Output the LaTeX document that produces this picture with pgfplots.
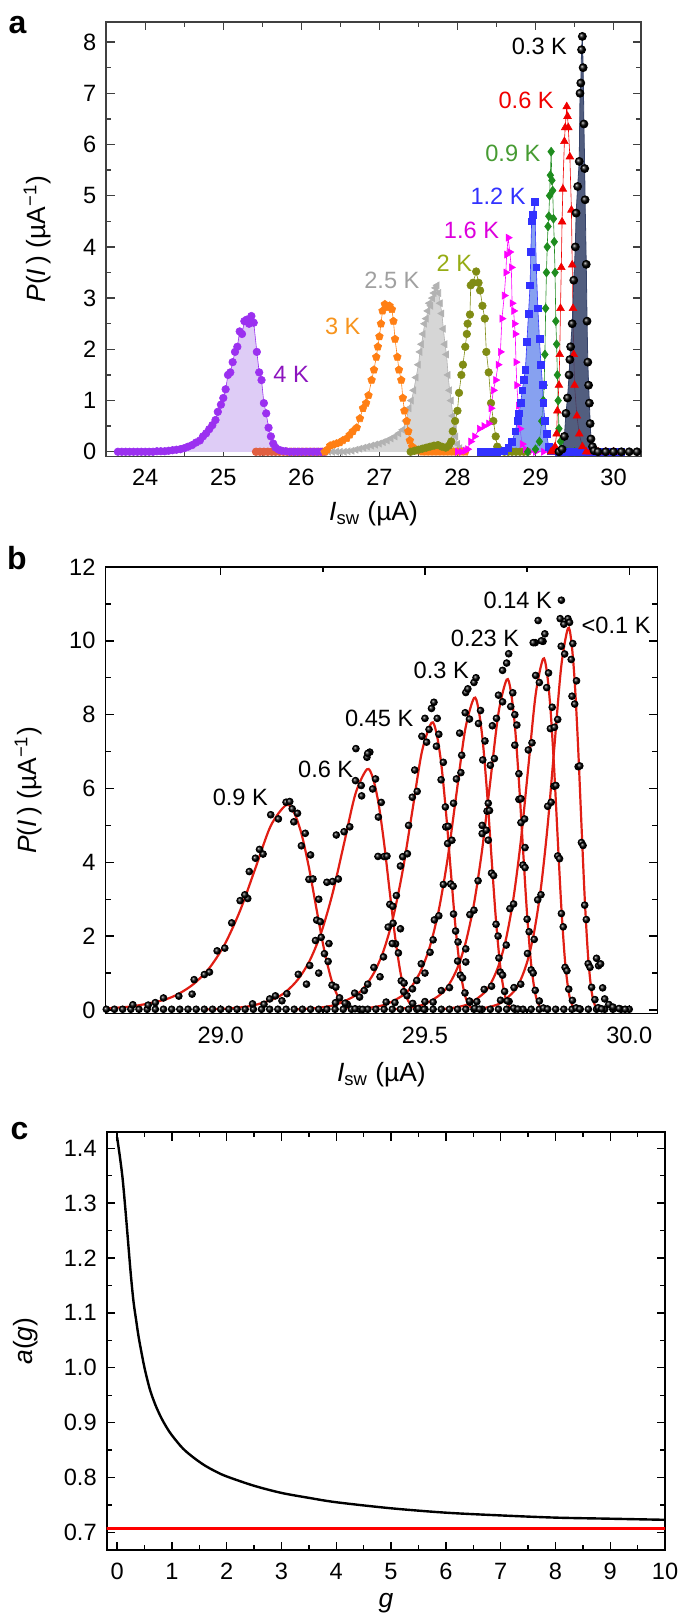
\documentclass[border=0pt]{standalone}
\usepackage{fontspec}
\setmainfont{Liberation Sans}
\usepackage{pgfplots}
\pgfplotsset{compat=1.18}
\usetikzlibrary{plotmarks}
\newcommand\fs{\fontsize{11.8}{14}\selectfont}
\newcommand\fl{\fontsize{13.2}{15}\selectfont}
\definecolor{cfour}{RGB}{155,48,240}
\definecolor{cfourfill}{RGB}{222,204,246}
\definecolor{cfourlab}{RGB}{140,20,190}
\definecolor{cthree}{RGB}{255,127,20}
\definecolor{cthreelab}{RGB}{247,148,29}
\definecolor{cbrown}{RGB}{225,95,65}
\definecolor{ctwofive}{RGB}{178,178,178}
\definecolor{ctwofivefill}{RGB}{214,214,214}
\definecolor{ctwofivelab}{RGB}{160,160,160}
\definecolor{ctwo}{RGB}{128,140,20}
\definecolor{ctwolab}{RGB}{150,172,20}
\definecolor{conesix}{RGB}{255,0,255}
\definecolor{conesixlab}{RGB}{220,0,220}
\definecolor{conetwo}{RGB}{50,50,255}
\definecolor{conetwofill}{RGB}{95,130,235}
\definecolor{cninek}{RGB}{30,140,30}
\definecolor{cninelab}{RGB}{70,155,50}
\definecolor{csix}{RGB}{240,0,0}
\definecolor{cthreefill}{RGB}{52,66,105}
\definecolor{fitred}{RGB}{225,30,20}
\begin{document}
\begin{tikzpicture}
\useasboundingbox (0pt,0pt) rectangle (342.5pt,808pt);
\pgfplotsset{every axis/.append style={scale only axis, font=\fs,
  tick label style={font=\fs}, label style={font=\fl}, /pgf/number format/assume math mode=true,
  major tick length=4.2pt, minor tick length=2.5pt,
  every tick/.style={line width=0.7pt, black},
  axis line style={line width=0.8pt},
  xticklabel style={yshift=-3pt}, yticklabel style={xshift=-1.5pt}}}
%%%%%%%%%%%%%%%% panel a
\begin{axis}[at={(53.1pt,579.8pt)}, anchor=south west, width=267.35pt, height=217.15pt,
  xmin=23.5, xmax=30.35, ymin=-0.09, ymax=8.39,
  axis line style={black!75},
  every tick/.style={line width=0.7pt, black!75},
  xtick={24,25,26,27,28,29,30}, minor x tick num=1,
  ytick={0,1,2,3,4,5,6,7,8}, minor y tick num=1,
  xlabel={\textit{I}\textsubscript{sw} (µA)},
  ylabel={\textit{P}(\textit{I}\,) (µA\textsuperscript{−1})},
  x label style={at={(axis description cs:0.5,-0.1326)}, anchor=center},
  y label style={at={(axis description cs:-0.129,0.5)}, anchor=center}]
% 4 K
\addplot[draw=none, fill=cfourfill] coordinates {(23.65,0)(23.7,0)(23.75,0)(23.8,0)(23.85,0)(23.9,0)(23.95,0)(24.0,0)(24.05,0)(24.1,0)(24.15,0.01)(24.2,0.01)(24.25,0.01)(24.3,0.02)(24.35,0.03)(24.4,0.04)(24.45,0.05)(24.5,0.07)(24.55,0.1)(24.6,0.13)(24.65,0.18)(24.7,0.22)(24.74,0.3)(24.78,0.36)(24.82,0.44)(24.86,0.52)(24.9,0.62)(24.93,0.78)(24.97,0.92)(25.0,1.05)(25.03,1.22)(25.06,1.5)(25.09,1.55)(25.12,1.75)(25.15,1.95)(25.18,2.05)(25.21,2.35)(25.24,2.3)(25.27,2.55)(25.3,2.58)(25.33,2.5)(25.36,2.65)(25.39,2.52)(25.43,1.95)(25.46,1.55)(25.49,1.4)(25.52,0.95)(25.55,0.75)(25.58,0.47)(25.61,0.3)(25.64,0.16)(25.67,0.08)(25.71,0.04)(25.75,0.02)(25.8,0.01)(25.85,0)} \closedcycle;
\addplot[color=cbrown, only marks, mark=*, mark size=1.9pt] coordinates {(25.42,0)(25.47,0)(25.52,0)(25.57,0)(25.62,0)(25.67,0)(25.72,0)(25.77,0)(25.82,0)(25.87,0)(25.92,0)(25.97,0)(26.02,0)(26.07,0)(26.12,0)(26.17,0)(26.22,0)(26.27,0)};
\addplot[color=cfour, line width=0.3pt, mark=*, mark size=1.9pt] coordinates {(23.65,0)(23.7,0)(23.75,0)(23.8,0)(23.85,0)(23.9,0)(23.95,0)(24.0,0)(24.05,0)(24.1,0)(24.15,0.01)(24.2,0.01)(24.25,0.01)(24.3,0.02)(24.35,0.03)(24.4,0.04)(24.45,0.05)(24.5,0.07)(24.55,0.1)(24.6,0.13)(24.65,0.18)(24.7,0.22)(24.74,0.3)(24.78,0.36)(24.82,0.44)(24.86,0.52)(24.9,0.62)(24.93,0.78)(24.97,0.92)(25.0,1.05)(25.03,1.22)(25.06,1.5)(25.09,1.55)(25.12,1.75)(25.15,1.95)(25.18,2.05)(25.21,2.35)(25.24,2.3)(25.27,2.55)(25.3,2.58)(25.33,2.5)(25.36,2.65)(25.39,2.52)(25.43,1.95)(25.46,1.55)(25.49,1.4)(25.52,0.95)(25.55,0.75)(25.58,0.47)(25.61,0.3)(25.64,0.16)(25.67,0.08)(25.71,0.04)(25.75,0.02)(25.8,0.01)(25.85,0)(25.9,0)(25.95,0)(26.0,0)(26.05,0)(26.1,0)(26.15,0)(26.2,0)(26.25,0)(26.3,0)};
% 2.5 K
\addplot[draw=none, fill=ctwofivefill] coordinates {(26.3,0)(26.35,0)(26.4,0)(26.45,0)(26.5,0)(26.55,0)(26.6,0.01)(26.65,0.02)(26.7,0.04)(26.75,0.06)(26.8,0.08)(26.85,0.1)(26.9,0.12)(26.95,0.14)(27.0,0.16)(27.05,0.19)(27.1,0.22)(27.15,0.26)(27.2,0.3)(27.25,0.36)(27.3,0.43)(27.34,0.6)(27.38,0.85)(27.41,1.0)(27.44,1.2)(27.47,1.45)(27.5,1.7)(27.52,1.95)(27.54,2.1)(27.56,2.3)(27.58,2.5)(27.6,2.6)(27.62,2.75)(27.64,2.9)(27.66,2.85)(27.68,3.0)(27.7,3.1)(27.72,3.2)(27.74,3.25)(27.76,3.1)(27.78,2.9)(27.8,2.7)(27.82,2.4)(27.84,2.1)(27.86,1.9)(27.88,1.5)(27.9,1.2)(27.92,1.0)(27.94,0.7)(27.96,0.45)(27.98,0.3)(28.0,0.15)(28.03,0.07)(28.06,0.03)(28.1,0)} \closedcycle;
\addplot[color=ctwofive, line width=0.3pt, mark=triangle*, mark size=2pt, mark options={rotate=90}] coordinates {(26.3,0)(26.35,0)(26.4,0)(26.45,0)(26.5,0)(26.55,0)(26.6,0.01)(26.65,0.02)(26.7,0.04)(26.75,0.06)(26.8,0.08)(26.85,0.1)(26.9,0.12)(26.95,0.14)(27.0,0.16)(27.05,0.19)(27.1,0.22)(27.15,0.26)(27.2,0.3)(27.25,0.36)(27.3,0.43)(27.34,0.6)(27.38,0.85)(27.41,1.0)(27.44,1.2)(27.47,1.45)(27.5,1.7)(27.52,1.95)(27.54,2.1)(27.56,2.3)(27.58,2.5)(27.6,2.6)(27.62,2.75)(27.64,2.9)(27.66,2.85)(27.68,3.0)(27.7,3.1)(27.72,3.2)(27.74,3.25)(27.76,3.1)(27.78,2.9)(27.8,2.7)(27.82,2.4)(27.84,2.1)(27.86,1.9)(27.88,1.5)(27.9,1.2)(27.92,1.0)(27.94,0.7)(27.96,0.45)(27.98,0.3)(28.0,0.15)(28.03,0.07)(28.06,0.03)(28.1,0)};
% 3 K
\addplot[color=cthree, line width=0.3pt, mark=pentagon*, mark size=2pt] coordinates {(26.3,0)(26.33,0.04)(26.37,0.12)(26.41,0.14)(26.45,0.16)(26.49,0.18)(26.53,0.22)(26.58,0.26)(26.62,0.33)(26.66,0.4)(26.71,0.47)(26.75,0.65)(26.79,0.85)(26.83,0.95)(26.86,1.1)(26.9,1.4)(26.93,1.6)(26.96,1.85)(26.98,2.05)(27.0,2.25)(27.02,2.5)(27.04,2.75)(27.07,2.88)(27.1,2.82)(27.13,2.85)(27.16,2.78)(27.18,2.55)(27.2,2.2)(27.23,1.85)(27.25,1.6)(27.28,1.4)(27.3,1.05)(27.32,0.8)(27.35,0.6)(27.37,0.4)(27.39,0.22)(27.42,0.1)(27.46,0.05)(27.5,0.02)(27.55,0)(27.6,0)(27.65,0)(27.7,0)(27.75,0)(27.8,0)(27.85,0)(27.9,0)(27.95,0)(28.0,0)(28.05,0)(28.1,0)};
% 2 K
\addplot[color=ctwo, line width=0.3pt, mark=*, mark size=1.9pt] coordinates {(27.4,0)(27.45,0.02)(27.5,0.04)(27.55,0.06)(27.6,0.08)(27.65,0.1)(27.7,0.12)(27.75,0.13)(27.8,0.1)(27.85,0.08)(27.89,0.12)(27.92,0.2)(27.94,0.4)(27.97,0.6)(28.0,0.8)(28.02,1.15)(28.05,1.5)(28.07,1.7)(28.1,2.05)(28.12,2.3)(28.13,2.5)(28.16,2.68)(28.17,3.25)(28.2,3.3)(28.24,3.52)(28.27,3.3)(28.29,3.15)(28.32,2.85)(28.35,2.6)(28.37,1.95)(28.4,1.55)(28.43,0.95)(28.46,0.6)(28.49,0.3)(28.51,0.1)(28.55,0.03)(28.6,0)(28.65,0)(28.7,0)(28.75,0)(28.8,0)(28.85,0)(28.9,0)};
% 1.6 K
\addplot[color=conesix, line width=0.3pt, mark=triangle*, mark size=2pt, mark options={rotate=-90}] coordinates {(28.0,0)(28.05,0)(28.1,0.02)(28.13,0.05)(28.17,0.2)(28.22,0.3)(28.28,0.45)(28.34,0.5)(28.4,0.55)(28.43,0.85)(28.46,1.2)(28.49,1.4)(28.52,1.7)(28.55,1.95)(28.57,2.6)(28.6,3.05)(28.62,3.5)(28.63,3.85)(28.65,4.18)(28.67,3.9)(28.69,3.6)(28.7,2.9)(28.72,2.75)(28.73,2.5)(28.74,2.3)(28.75,1.75)(28.76,1.3)(28.78,0.9)(28.8,0.45)(28.83,0.15)(28.87,0.05)(28.92,0)(29.0,0)(29.1,0)};
% 0.9 K
\addplot[color=cninek, line width=0.3pt, mark=diamond*, mark size=2.2pt] coordinates {(28.9,0)(29.0,0.05)(29.05,0.2)(29.08,0.6)(29.1,1.0)(29.11,1.3)(29.12,1.9)(29.13,2.8)(29.14,3.5)(29.15,4.0)(29.16,4.4)(29.17,4.6)(29.18,5.0)(29.19,5.4)(29.2,5.86)(29.21,5.3)(29.22,5.1)(29.23,4.55)(29.24,4.1)(29.25,3.5)(29.26,2.55)(29.27,2.1)(29.28,1.5)(29.29,1.0)(29.3,0.45)(29.32,0.2)(29.35,0.05)(29.4,0)(29.5,0)(29.6,0)};
% 1.2 K
\addplot[draw=none, fill=conetwofill, fill opacity=0.75] coordinates {(28.5,0)(28.6,0.02)(28.65,0.08)(28.7,0.2)(28.74,0.4)(28.77,0.6)(28.79,0.75)(28.81,0.95)(28.83,1.2)(28.85,1.4)(28.87,1.6)(28.89,2.15)(28.91,2.7)(28.93,3.25)(28.94,3.9)(28.95,4.5)(28.97,4.62)(28.99,4.88)(29.01,3.6)(29.03,2.8)(29.05,2.2)(29.07,1.7)(29.09,1.3)(29.1,0.95)(29.12,0.6)(29.14,0.35)(29.17,0.1)(29.2,0.02)(29.3,0)} \closedcycle;
\addplot[color=conetwo, line width=0.3pt, mark=square*, mark size=1.7pt] coordinates {(28.3,0)(28.4,0)(28.5,0)(28.6,0.02)(28.65,0.08)(28.7,0.2)(28.74,0.4)(28.77,0.6)(28.79,0.75)(28.81,0.95)(28.83,1.2)(28.85,1.4)(28.87,1.6)(28.89,2.15)(28.91,2.7)(28.93,3.25)(28.94,3.9)(28.95,4.5)(28.97,4.62)(28.99,4.88)(29.01,3.6)(29.03,2.8)(29.05,2.2)(29.07,1.7)(29.09,1.3)(29.1,0.95)(29.12,0.6)(29.14,0.35)(29.17,0.1)(29.2,0.02)(29.3,0)(29.4,0)(29.5,0)(29.6,0)(29.7,0)(29.8,0)(29.9,0)(30.0,0)(30.1,0)};
% 0.6 K
\addplot[color=csix, line width=0.3pt, mark=triangle*, mark size=2.2pt] coordinates {(29.2,0)(29.22,0.02)(29.25,0.1)(29.27,0.35)(29.28,0.8)(29.3,1.3)(29.31,1.9)(29.32,2.8)(29.33,3.6)(29.34,4.49)(29.35,5.13)(29.37,6.06)(29.38,6.33)(29.4,6.74)(29.41,6.55)(29.42,6.33)(29.44,5.76)(29.46,4.72)(29.47,3.65)(29.48,2.8)(29.49,1.9)(29.5,1.3)(29.53,0.7)(29.56,0.35)(29.6,0.1)(29.65,0)(29.7,0)(29.8,0)(29.9,0)(30.0,0)};
% 0.3 K
\addplot[draw=cthreefill, fill=cthreefill, fill opacity=0.85] coordinates {(29.3,0)(29.34,0.05)(29.37,0.3)(29.39,0.75)(29.41,1.05)(29.43,1.5)(29.44,1.8)(29.45,2.05)(29.47,2.5)(29.49,3.35)(29.51,4.0)(29.52,4.66)(29.54,5.18)(29.56,5.67)(29.57,7.0)(29.58,7.2)(29.59,7.85)(29.6,8.11)(29.61,7.5)(29.62,6.4)(29.63,5.53)(29.635,4.92)(29.65,3.66)(29.66,2.55)(29.67,1.75)(29.68,1.3)(29.69,0.95)(29.7,0.55)(29.71,0.25)(29.73,0.1)(29.75,0.02)(29.8,0)} \closedcycle;
\addplot[only marks, mark=ball, mark size=2pt, mark options={ball color=black}] coordinates {(29.3,0)(29.34,0.05)(29.37,0.3)(29.39,0.75)(29.41,1.05)(29.43,1.5)(29.44,1.8)(29.45,2.05)(29.47,2.5)(29.49,3.35)(29.51,4.0)(29.52,4.66)(29.54,5.18)(29.56,5.67)(29.57,7.0)(29.58,7.2)(29.59,7.85)(29.6,8.11)(29.61,7.5)(29.62,6.4)(29.63,5.53)(29.635,4.92)(29.65,3.66)(29.66,2.55)(29.67,1.75)(29.68,1.3)(29.69,0.95)(29.7,0.55)(29.71,0.25)(29.73,0.1)(29.75,0.02)(29.8,0)(29.9,0)(30.0,0)(30.1,0)(30.2,0)(30.3,0)};
\node[text=black] at (axis cs:29.05,7.92) {0.3 K};
\node[text=csix] at (axis cs:28.88,6.87) {0.6 K};
\node[text=cninelab] at (axis cs:28.71,5.82) {0.9 K};
\node[text=conetwo] at (axis cs:28.52,4.99) {1.2 K};
\node[text=conesixlab] at (axis cs:28.18,4.32) {1.6 K};
\node[text=ctwolab] at (axis cs:27.96,3.68) {2 K};
\node[text=ctwofivelab] at (axis cs:27.16,3.35) {2.5 K};
\node[text=cthreelab] at (axis cs:26.53,2.44) {3 K};
\node[text=cfourlab] at (axis cs:25.87,1.51) {4 K};
\end{axis}
%%%%%%%%%%%%%%%% panel b
\begin{axis}[at={(52.75pt,301.15pt)}, anchor=south west, width=275.95pt, height=223.35pt,
  xmin=28.718, xmax=30.069, ymin=-0.1, ymax=12,
  xtick={29,29.5,30}, minor x tick num=1,
  ytick={0,2,4,6,8,10,12}, minor y tick num=1,
  xticklabel style={/pgf/number format/fixed, /pgf/number format/fixed zerofill, /pgf/number format/precision=1},
  xlabel={\textit{I}\textsubscript{sw} (µA)},
  ylabel={\textit{P}(\textit{I}\,) (µA\textsuperscript{−1})},
  x label style={at={(axis description cs:0.5,-0.137)}, anchor=center},
  y label style={at={(axis description cs:-0.14,0.5)}, anchor=center}]
\addplot[only marks, mark=ball, mark size=1.7pt, mark options={ball color=black}] coordinates {
(28.72,0.02)(28.74,0.02)(28.76,0.02)(28.78,0.02)(28.80,0.02)(28.82,0.02)(28.84,0.02)(28.86,0.02)(28.88,0.02)(28.90,0.02)(28.92,0.02)(28.94,0.02)(28.96,0.02)(28.98,0.02)(29.00,0.02)(29.02,0.02)(29.04,0.02)(29.06,0.02)(29.08,0.02)(29.10,0.02)(29.12,0.02)(29.14,0.02)(29.16,0.02)(29.18,0.02)(29.20,0.02)(29.22,0.02)(29.24,0.02)(29.26,0.02)(29.28,0.02)(29.30,0.02)(29.32,0.02)(29.34,0.02)(29.36,0.02)(29.38,0.02)(29.40,0.02)(29.42,0.02)(29.44,0.02)(29.46,0.02)(29.48,0.02)(29.50,0.02)(29.52,0.02)(29.54,0.02)(29.56,0.02)(29.58,0.02)(29.60,0.02)(29.62,0.02)(29.64,0.02)(29.66,0.02)(29.68,0.02)(29.70,0.02)(29.72,0.02)(29.74,0.02)(29.76,0.02)(29.78,0.02)(29.80,0.02)(29.82,0.02)(29.84,0.02)(29.86,0.02)(29.88,0.02)(29.90,0.02)(29.92,0.02)(29.94,0.02)(29.96,0.02)(29.98,0.02)(30.00,0.02)
(28.785,0.142)(28.8225,0.133)(28.86,0.326)(28.8975,0.376)(28.935,0.822)(28.9725,1.027)(28.99125,1.602)(29.01,1.676)(29.0475,2.962)(29.06625,3.020)(29.085,4.111)(29.10375,4.224)(29.1225,5.289)(29.14125,5.176)(29.16,5.628)(29.169,5.646)(29.179,5.097)(29.188,5.328)(29.1975,4.448)(29.207,4.786)(29.216,3.538)(29.226,3.549)(29.235,2.435)(29.244,2.392)(29.254,1.525)(29.263,1.315)(29.2725,0.673)(29.282,0.620)(29.291,0.330)(29.31,0.152)(29.329,0.033)(29.3475,0.017)
(28.84,0.2)(28.93,0.43)(28.96,0.96)(29.027,2.36)(29.059,3.12)(29.07,3.75)(29.095,4.35)(29.175,5.45)(29.22,4.2)(29.24,3.0)(29.265,1.8)
(29.078,0.166)(29.106,0.156)(29.134,0.383)(29.162,0.441)(29.19,0.966)(29.218,1.206)(29.232,1.882)(29.246,1.969)(29.274,3.480)(29.288,3.548)(29.302,4.829)(29.316,4.962)(29.33,6.213)(29.344,6.081)(29.358,6.846)(29.365,6.986)(29.372,5.987)(29.379,6.259)(29.386,5.226)(29.393,5.623)(29.40,4.156)(29.407,4.169)(29.414,2.861)(29.421,2.810)(29.428,1.792)(29.435,1.545)(29.442,0.791)(29.449,0.729)(29.456,0.387)(29.47,0.178)(29.484,0.039)(29.498,0.020)
(29.331,7.08)(29.36,6.95)(29.283,4.74)(29.26,3.46)(29.385,4.16)(29.345,5.8)(29.24,1.0)(29.21,0.7)(29.15,0.25)(29.12,0.3)
(29.281,0.198)(29.3045,0.186)(29.328,0.457)(29.3515,0.527)(29.375,1.152)(29.3985,1.439)(29.410,2.246)(29.422,2.350)(29.4455,4.152)(29.457,4.233)(29.469,5.763)(29.481,5.921)(29.4925,7.414)(29.504,7.256)(29.516,8.169)(29.522,8.336)(29.528,7.144)(29.534,7.469)(29.5395,6.236)(29.545,6.709)(29.551,4.959)(29.557,4.975)(29.563,3.414)(29.569,3.353)(29.575,2.138)(29.581,1.843)(29.5865,0.944)(29.592,0.870)(29.598,0.462)(29.61,0.212)(29.622,0.047)(29.6335,0.023)
(29.43,3.1)(29.44,3.9)(29.46,5.0)(29.475,6.5)(29.5,7.9)(29.51,7.6)(29.53,7.9)(29.55,5.5)(29.57,2.6)(29.39,0.9)(29.36,0.7)(29.34,0.35)(29.42,1.8)(29.44,2.2)
(29.405,0.215)(29.4265,0.202)(29.448,0.496)(29.4695,0.572)(29.491,1.251)(29.5125,1.563)(29.523,2.440)(29.534,2.552)(29.5555,4.510)(29.566,4.598)(29.577,6.259)(29.588,6.430)(29.5985,8.052)(29.609,7.881)(29.62,8.873)(29.625,9.0)(29.631,7.760)(29.636,8.112)(29.6415,6.773)(29.647,7.287)(29.652,5.386)(29.658,5.403)(29.663,3.708)(29.668,3.642)(29.674,2.322)(29.679,2.002)(29.6845,1.025)(29.69,0.945)(29.695,0.502)(29.706,0.231)(29.717,0.051)(29.7275,0.025)
(29.6,8.6)(29.605,8.7)(29.585,7.5)(29.59,6.9)(29.57,5.6)(29.545,3.4)(29.5,1.0)(29.48,0.8)(29.655,4.6)(29.64,5.0)(29.52,1.9)
(29.50,0.228)(29.52,0.214)(29.54,0.525)(29.56,0.606)(29.58,1.325)(29.60,1.656)(29.61,2.584)(29.62,2.703)(29.64,4.777)(29.65,4.870)(29.66,6.629)(29.67,6.811)(29.68,8.528)(29.69,8.348)(29.70,9.398)(29.705,9.65)(29.71,8.219)(29.715,8.592)(29.72,7.173)(29.725,7.718)(29.73,5.705)(29.735,5.723)(29.74,3.927)(29.745,3.857)(29.75,2.459)(29.755,2.120)(29.76,1.086)(29.765,1.001)(29.77,0.532)(29.78,0.244)(29.79,0.054)(29.80,0.027)
(29.69,9.2)(29.675,7.9)(29.665,7.7)(29.655,5.6)(29.63,3.5)(29.6,1.3)(29.73,6.4)(29.745,4.4)(29.72,8.0)
(29.609,0.243)(29.627,0.227)(29.645,0.558)(29.663,0.644)(29.681,1.408)(29.699,1.759)(29.708,2.746)(29.717,2.872)(29.735,5.075)(29.744,5.174)(29.753,7.044)(29.762,7.237)(29.771,9.062)(29.78,8.870)(29.789,9.986)(29.7935,10.189)(29.798,8.733)(29.8025,9.130)(29.807,7.622)(29.8115,8.201)(29.816,6.062)(29.8205,6.081)(29.825,4.173)(29.8295,4.099)(29.834,2.613)(29.8385,2.253)(29.843,1.154)(29.8475,1.063)(29.852,0.565)(29.861,0.260)(29.87,0.057)(29.879,0.029)
(29.834,11.1)(29.831,10.6)(29.777,10.55)(29.77,9.95)(29.765,9.95)(29.785,10.0)
(29.685,0.264)(29.7015,0.247)(29.718,0.607)(29.7345,0.700)(29.751,1.531)(29.7675,1.913)(29.776,2.985)(29.784,3.123)(29.8005,5.518)(29.809,5.626)(29.817,7.659)(29.825,7.869)(29.8335,9.853)(29.842,9.644)(29.85,10.6)(29.854,10.5)(29.858,9.495)(29.862,9.926)(29.8665,8.288)(29.871,8.917)(29.875,6.591)(29.879,6.611)(29.883,4.537)(29.887,4.457)(29.891,2.841)(29.895,2.450)(29.8995,1.254)(29.904,1.156)(29.908,0.614)(29.916,0.282)(29.924,0.062)(29.9325,0.031)
(29.92,1.4)(29.925,1.2)(29.93,1.25)(29.935,0.6)(29.94,0.3)(29.95,0.15)(29.96,0.08)(29.975,0.04)(29.99,0.02)(29.84,10.45)(29.86,8.5)};
% fits
\addplot[fitred, line width=1.1pt, smooth] coordinates {(28.710,0.037)(28.785,0.101)(28.860,0.271)(28.8975,0.442)(28.935,0.715)(28.9725,1.141)(29.010,1.783)(29.0475,2.693)(29.085,3.842)(29.1225,4.989)(29.160,5.55)(29.17875,5.365)(29.1975,4.783)(29.21625,3.845)(29.235,2.706)(29.25375,1.606)(29.2725,0.765)(29.29125,0.275)(29.31,0.069)(29.32875,0.011)};
\addplot[fitred, line width=1.1pt, smooth] coordinates {(28.966,0.016)(29.022,0.044)(29.078,0.119)(29.134,0.319)(29.162,0.519)(29.190,0.840)(29.218,1.341)(29.246,2.095)(29.274,3.164)(29.302,4.513)(29.330,5.861)(29.358,6.52)(29.372,6.302)(29.386,5.619)(29.400,4.517)(29.414,3.179)(29.428,1.886)(29.442,0.898)(29.456,0.323)(29.470,0.081)(29.484,0.013)};
\addplot[fitred, line width=1.1pt, smooth] coordinates {(29.187,0.019)(29.234,0.052)(29.281,0.142)(29.328,0.380)(29.3515,0.619)(29.375,1.002)(29.3985,1.600)(29.422,2.500)(29.4455,3.775)(29.469,5.385)(29.4925,6.994)(29.516,7.78)(29.52775,7.520)(29.5395,6.705)(29.55125,5.390)(29.563,3.794)(29.57475,2.251)(29.5865,1.072)(29.59825,0.385)(29.610,0.096)(29.62175,0.016)};
\addplot[fitred, line width=1.1pt, smooth] coordinates {(29.319,0.021)(29.362,0.057)(29.405,0.154)(29.448,0.413)(29.4695,0.673)(29.491,1.088)(29.5125,1.737)(29.534,2.715)(29.5555,4.100)(29.577,5.849)(29.5985,7.597)(29.620,8.45)(29.63075,8.168)(29.6415,7.282)(29.65225,5.854)(29.663,4.120)(29.67375,2.445)(29.6845,1.164)(29.69525,0.418)(29.706,0.105)(29.71675,0.017)};
\addplot[fitred, line width=1.1pt, smooth] coordinates {(29.42,0.022)(29.46,0.060)(29.50,0.163)(29.54,0.438)(29.56,0.712)(29.58,1.153)(29.60,1.840)(29.62,2.876)(29.64,4.343)(29.66,6.195)(29.68,8.046)(29.70,8.95)(29.71,8.651)(29.72,7.713)(29.73,6.201)(29.74,4.364)(29.75,2.589)(29.76,1.233)(29.77,0.443)(29.78,0.111)(29.79,0.018)};
\addplot[fitred, line width=1.1pt, smooth] coordinates {(29.537,0.024)(29.573,0.064)(29.609,0.173)(29.645,0.465)(29.663,0.757)(29.681,1.225)(29.699,1.955)(29.717,3.056)(29.735,4.614)(29.753,6.583)(29.771,8.549)(29.789,9.51)(29.798,9.192)(29.807,8.196)(29.816,6.589)(29.825,4.637)(29.834,2.751)(29.843,1.310)(29.852,0.471)(29.861,0.118)(29.870,0.019)};
\addplot[fitred, line width=1.1pt, smooth] coordinates {(29.619,0.026)(29.652,0.069)(29.685,0.188)(29.718,0.506)(29.7345,0.823)(29.751,1.332)(29.7675,2.126)(29.784,3.322)(29.8005,5.017)(29.817,7.157)(29.8335,9.296)(29.85,10.34)(29.85825,9.995)(29.8665,8.911)(29.87475,7.164)(29.883,5.042)(29.89125,2.991)(29.8995,1.425)(29.90775,0.512)(29.916,0.128)(29.92425,0.021)};
\node at (axis cs:29.048,5.75) {0.9 K};
\node at (axis cs:29.257,6.52) {0.6 K};
\node at (axis cs:29.388,7.89) {0.45 K};
\node at (axis cs:29.54,9.20) {0.3 K};
\node at (axis cs:29.647,10.07) {0.23 K};
\node at (axis cs:29.727,11.09) {0.14 K};
\node at (axis cs:29.968,10.41) {<0.1 K};
\end{axis}
%%%%%%%%%%%%%%%% panel c
\begin{axis}[at={(53.35pt,33pt)}, anchor=south west, width=279.15pt, height=208.85pt,
  xmin=-0.19, xmax=10, ymin=0.668, ymax=1.429,
  xtick={0,1,2,3,4,5,6,7,8,9,10}, minor x tick num=1,
  ytick={0.7,0.8,0.9,1.0,1.1,1.2,1.3,1.4}, minor y tick num=1,
  yticklabel style={/pgf/number format/fixed, /pgf/number format/fixed zerofill, /pgf/number format/precision=1},
  xlabel={\textit{g}}, ylabel={\textit{a}(\textit{g})},
  x label style={at={(axis description cs:0.5,-0.128)}, anchor=center},
  y label style={at={(axis description cs:-0.1445,0.5)}, anchor=center}]
\addplot[red, line width=1.2pt] coordinates {(-0.3,0.7071)(10.1,0.7071)};
\addplot[black, line width=1.2pt, smooth] coordinates {(0,1.42)(0.05,1.385)(0.1,1.345)(0.15,1.29)(0.2,1.23)(0.25,1.17)(0.3,1.12)(0.35,1.085)(0.4,1.052)(0.5,1.0)(0.6,0.96)(0.7,0.932)(0.8,0.91)(0.9,0.892)(1.0,0.877)(1.2,0.853)(1.4,0.836)(1.6,0.822)(1.8,0.811)(2.0,0.802)(2.5,0.785)(3.0,0.772)(3.5,0.763)(4.0,0.755)(5.0,0.744)(6.0,0.736)(7.0,0.731)(8.0,0.727)(9.0,0.725)(10.0,0.723)};
\end{axis}
\node[font=\fontsize{16}{18}\selectfont\bfseries] at (8.75pt,795.5pt) {a};
\node[font=\fontsize{16}{18}\selectfont\bfseries] at (8.5pt,529pt) {b};
\node[font=\fontsize{16}{18}\selectfont\bfseries] at (9.8pt,242.4pt) {c};
\end{tikzpicture}
\end{document}
